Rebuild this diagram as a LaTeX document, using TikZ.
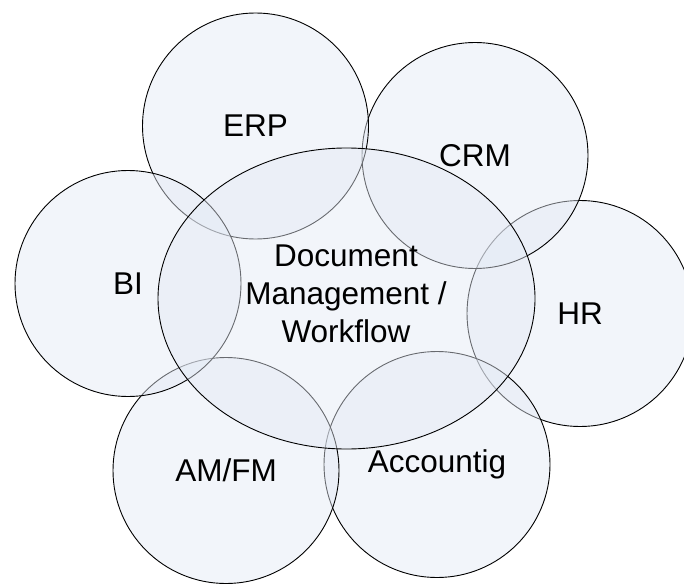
\documentclass[tikz,border=0pt]{standalone}
\usepackage{fontspec}
\setmainfont{Liberation Sans}
\usetikzlibrary{shapes.geometric}
\definecolor{bubblefill}{RGB}{227,233,244}
\tikzset{
  bubble/.style={circle, draw=black, line width=0.9pt, fill=bubblefill, fill opacity=0.46,
    text opacity=1, minimum size=226pt, inner sep=0pt,
    font=\fontsize{31.5}{38}\selectfont},
  core/.style={ellipse, draw=black, line width=0.9pt, fill=bubblefill, fill opacity=0.46,
    text opacity=1, minimum width=377pt, minimum height=301pt, inner sep=0pt},
  coretext/.style={align=center, inner sep=0pt, font=\fontsize{31.5}{38}\selectfont}
}
\begin{document}
\begin{tikzpicture}[x=1pt,y=-1pt]
\useasboundingbox (0,0) rectangle (684,583);
\clip (0,0) rectangle (684,583);
\node[bubble] (hr)   at (580,313.5) {HR};
\node[bubble] (crm)  at (475,155.5) {CRM};
\node[bubble] (erp)  at (255.5,126) {ERP};
\node[bubble] (acc)  at (437,464.5) {Accountig};
\node[bubble] (amfm) at (226,470.5) {AM/FM};
\node[bubble] (bi)   at (128,283.5) {BI};
\node[core] (dm) at (346.5,298.5) {};
\node[coretext] (dmtext) at (346,293.7) {Document\\Management /\\Workflow};
\end{tikzpicture}
\end{document}
